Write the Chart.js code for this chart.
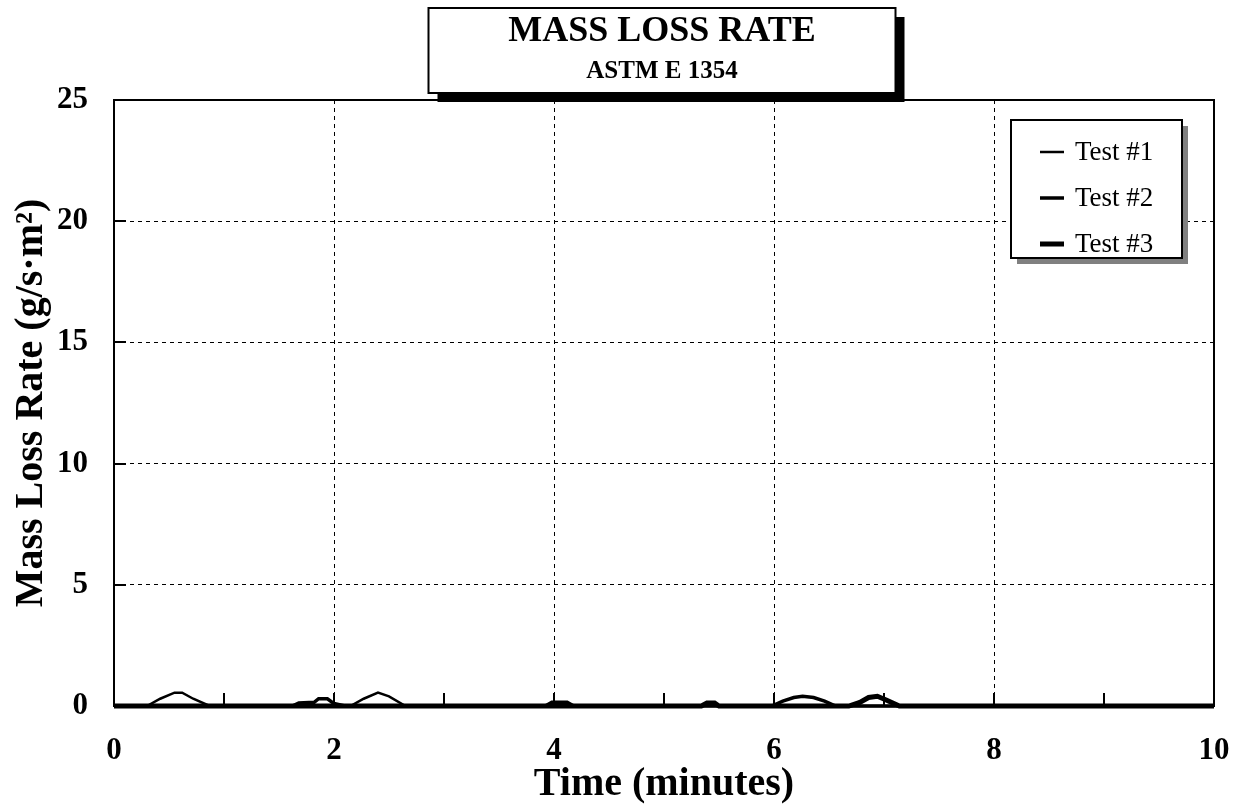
<!DOCTYPE html>
<html>
<head>
<meta charset="utf-8">
<title>Mass Loss Rate - ASTM E 1354</title>
<script src="https://cdn.jsdelivr.net/npm/chart.js@4"></script>
<style>
	html, body { margin: 0; padding: 0; background: #fff; }
	#chart { display: block; }
</style>
</head>
<body>
<canvas id="chart" width="1237" height="811"></canvas>
<script>
(function () {
	'use strict';

	// ─── Data (time in minutes, rate in g/s·m²) ───
	var seriesNames = ['Test #1', 'Test #2', 'Test #3'];

	var time1 = [0, 0.30, 0.42, 0.55, 0.62, 0.72, 0.87, 2.15, 2.27, 2.40, 2.50, 2.65, 10];
	var test1 = [0, 0, 0.30, 0.55, 0.55, 0.30, 0, 0, 0.30, 0.55, 0.40, 0, 0];

	var time2 = [0, 1.62, 1.68, 1.82, 1.86, 1.94, 2.00, 2.10, 3.92, 3.98, 4.12, 4.18, 5.98, 6.08, 6.18, 6.26, 6.36, 6.46, 6.56, 10];
	var test2 = [0, 0, 0.12, 0.15, 0.30, 0.30, 0.10, 0, 0, 0.15, 0.15, 0, 0, 0.20, 0.35, 0.40, 0.35, 0.20, 0, 0];

	var time3 = [0, 5.34, 5.39, 5.46, 5.50, 6.68, 6.78, 6.86, 6.94, 7.02, 7.14, 10];
	var test3 = [0, 0, 0.12, 0.12, 0, 0, 0.15, 0.35, 0.40, 0.25, 0, 0];

	var xTicks = [0, 2, 4, 6, 8, 10];
	var yTicks = [0, 5, 10, 15, 20, 25];
	var titleLines = ['MASS LOSS RATE', 'ASTM E 1354'];
	var xTitle = 'Time (minutes)';
	var yTitle = 'Mass Loss Rate (g/s·m²)';

	// ─── Styles ───
	var serif = "'Liberation Serif', 'Times New Roman', serif";
	var lineWidths = [2.5, 3.5, 5];

	function toPoints(xs, ys) {
		return xs.map(function (x, i) { return { x: x, y: ys[i] }; });
	}

	function innerLine(v, arr) {
		return v > arr[0] && v < arr[arr.length - 1];
	}

	// ─── Frame, inside ticks, title box and legend ───
	var decorPlugin = {
		id: 'decor',
		afterDatasetsDraw: function (chart) {
			var ctx = chart.ctx;
			var a = chart.chartArea;
			var xs = chart.scales.x;
			var ys = chart.scales.y;

			ctx.save();
			ctx.strokeStyle = '#000';
			ctx.lineWidth = 2;
			ctx.setLineDash([]);
			ctx.strokeRect(a.left, a.top, a.right - a.left, a.bottom - a.top);

			// inside tick marks, every minute on x, every label on y
			ctx.beginPath();
			for (var m = xTicks[0] + 1; m < xTicks[xTicks.length - 1]; m++) {
				var px = Math.round(xs.getPixelForValue(m));
				ctx.moveTo(px, a.bottom);
				ctx.lineTo(px, a.bottom - 13);
			}
			yTicks.forEach(function (v) {
				if (!innerLine(v, yTicks)) return;
				var py = Math.round(ys.getPixelForValue(v));
				ctx.moveTo(a.left, py);
				ctx.lineTo(a.left + 12, py);
			});
			ctx.stroke();

			// title box with shadow
			var bw = 467, bh = 85;
			var cx = (a.left + a.right) / 2 - 2;
			var bx = cx - bw / 2, by = 8;
			ctx.fillStyle = '#000';
			ctx.fillRect(bx + 9, by + 9, bw, bh);
			ctx.fillStyle = '#fff';
			ctx.fillRect(bx, by, bw, bh);
			ctx.lineWidth = 2;
			ctx.strokeRect(bx, by, bw, bh);
			ctx.fillStyle = '#000';
			ctx.textAlign = 'center';
			ctx.textBaseline = 'middle';
			ctx.font = 'bold 36px ' + serif;
			ctx.fillText(titleLines[0], cx, by + 24);
			ctx.font = 'bold 25px ' + serif;
			ctx.fillText(titleLines[1], cx, by + 64);

			// legend box with grey shadow
			var lw = 171, lh = 138;
			var lx = a.right - 32 - lw, ly = a.top + 20;
			ctx.fillStyle = '#808080';
			ctx.fillRect(lx + 6, ly + 6, lw, lh);
			ctx.fillStyle = '#fff';
			ctx.fillRect(lx, ly, lw, lh);
			ctx.strokeStyle = '#000';
			ctx.lineWidth = 2;
			ctx.strokeRect(lx, ly, lw, lh);
			ctx.textAlign = 'left';
			ctx.font = '27px ' + serif;
			chart.data.datasets.forEach(function (ds, i) {
				var rowY = ly + 32 + i * 46;
				ctx.fillStyle = '#000';
				ctx.fillRect(lx + 29, rowY - ds.borderWidth / 2, 24, ds.borderWidth);
				ctx.fillText(ds.label, lx + 64, rowY + 1);
			});
			ctx.restore();
		}
	};

	// ─── Chart ───
	var ctx = document.getElementById('chart').getContext('2d');

	new Chart(ctx, {
		type: 'line',
		data: {
			datasets: [
				{ label: seriesNames[0], data: toPoints(time1, test1) },
				{ label: seriesNames[1], data: toPoints(time2, test2) },
				{ label: seriesNames[2], data: toPoints(time3, test3) }
			].map(function (ds, i) {
				ds.borderColor = '#000';
				ds.backgroundColor = '#000';
				ds.borderWidth = lineWidths[i];
				ds.pointRadius = 0;
				ds.tension = 0;
				ds.fill = false;
				ds.clip = false;
				ds.borderJoinStyle = 'miter';
				return ds;
			})
		},
		options: {
			responsive: false,
			animation: false,
			devicePixelRatio: 1,
			layout: { padding: { top: 100, right: 23, left: 0, bottom: 0 } },
			plugins: {
				legend: { display: false },
				tooltip: { enabled: false }
			},
			scales: {
				x: {
					type: 'linear',
					min: xTicks[0],
					max: xTicks[xTicks.length - 1],
					afterFit: function (scale) {
						scale.height = 105;
						scale.paddingLeft = 0;
						scale.paddingRight = 0;
					},
					afterBuildTicks: function (scale) {
						scale.ticks = xTicks.map(function (v) { return { value: v }; });
					},
					ticks: {
						color: '#000',
						font: { family: serif, size: 31, weight: 'bold' },
						padding: 26,
						maxRotation: 0
					},
					grid: {
						drawTicks: false,
						lineWidth: 1,
						color: function (c) {
							return innerLine(c.tick && c.tick.value, xTicks) ? '#000' : 'rgba(0,0,0,0)';
						}
					},
					border: { display: false, dash: [4, 4] },
					title: {
						display: true,
						text: xTitle,
						color: '#000',
						font: { family: serif, size: 40, weight: 'bold' },
						padding: { top: 0, bottom: 2 }
					}
				},
				y: {
					type: 'linear',
					min: yTicks[0],
					max: yTicks[yTicks.length - 1],
					afterFit: function (scale) {
						scale.width = 114;
						scale.paddingTop = 0;
						scale.paddingBottom = 0;
					},
					afterBuildTicks: function (scale) {
						scale.ticks = yTicks.map(function (v) { return { value: v }; });
					},
					ticks: {
						color: '#000',
						font: { family: serif, size: 31, weight: 'bold' },
						padding: 26
					},
					grid: {
						drawTicks: false,
						lineWidth: 1,
						color: function (c) {
							return innerLine(c.tick && c.tick.value, yTicks) ? '#000' : 'rgba(0,0,0,0)';
						}
					},
					border: { display: false, dash: [4, 4] },
					title: {
						display: true,
						text: yTitle,
						color: '#000',
						font: { family: serif, size: 40, weight: 'bold' },
						padding: { top: 8, bottom: 0 }
					}
				}
			}
		},
		plugins: [decorPlugin]
	});

})();
</script>
</body>
</html>
